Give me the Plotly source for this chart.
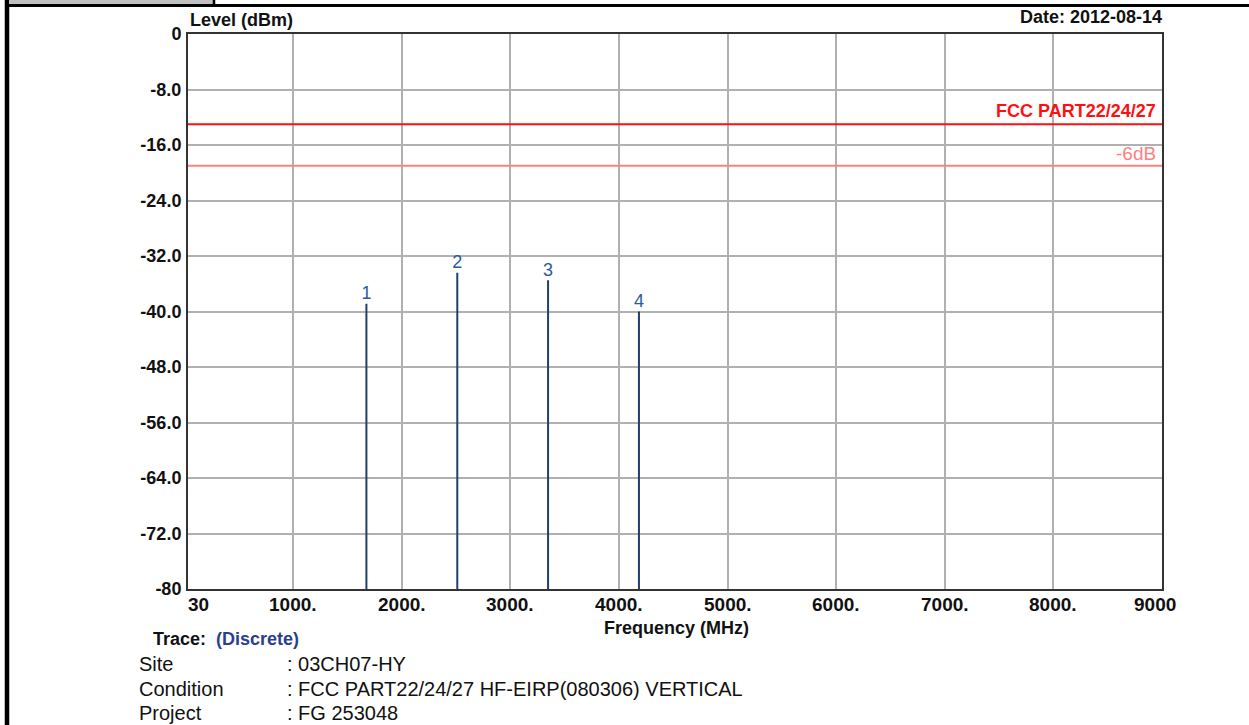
import plotly.graph_objects as go

# Spectrum data: discrete harmonic emissions
marker_ids = ["1", "2", "3", "4"]
freq_mhz = [1673.0, 2510.0, 3346.0, 4183.0]
level_dbm = [-38.9, -34.4, -35.5, -40.0]

# Limit lines
limit_name = "FCC PART22/24/27"
limit_level = -13.0
margin_name = "-6dB"
margin_level = -19.0

# Axis ticks
x_ticks = [30, 1000, 2000, 3000, 4000, 5000, 6000, 7000, 8000, 9000]
x_ticktext = ["30", "1000.", "2000.", "3000.", "4000.", "5000.", "6000.", "7000.", "8000.", "9000"]
y_ticks = [0, -8, -16, -24, -32, -40, -48, -56, -64, -72, -80]
y_ticktext = ["0", "-8.0", "-16.0", "-24.0", "-32.0", "-40.0", "-48.0", "-56.0", "-64.0", "-72.0", "-80"]

# Report header/footer info
date_text = "Date: 2012-08-14"
info_keys = ["Site", "Condition", "Project"]
info_vals = [": 03CH07-HY", ": FCC PART22/24/27 HF-EIRP(080306) VERTICAL", ": FG 253048"]

W, H = 1249, 725
L, R, T, B = 188, 1162, 34, 589
FONT = "Liberation Sans, Arial, sans-serif"


def px(p):
    return (p - L) / (R - L)


def py(q):
    return (B - q) / (B - T)


fig = go.Figure()

# Stem lines for each discrete emission
sx, sy = [], []
for f, v in zip(freq_mhz, level_dbm):
    sx += [f, f, None]
    sy += [-80, v, None]
fig.add_trace(go.Scatter(x=sx, y=sy, mode="lines",
                         line=dict(color="#1f3f6f", width=2),
                         hoverinfo="skip", showlegend=False))

# Marker numbers above each stem
fig.add_trace(go.Scatter(x=freq_mhz, y=level_dbm, mode="text", text=marker_ids,
                         textposition="top center",
                         textfont=dict(family=FONT, size=18, color="#2b5aa0"),
                         showlegend=False, hoverinfo="skip"))

# Limit and margin lines
fig.add_trace(go.Scatter(x=[30, 9000], y=[limit_level] * 2, mode="lines",
                         line=dict(color="#ff1010", width=2),
                         hoverinfo="skip", showlegend=False))
fig.add_trace(go.Scatter(x=[30, 9000], y=[margin_level] * 2, mode="lines",
                         line=dict(color="#ff8080", width=2),
                         hoverinfo="skip", showlegend=False))

annotations = [
    dict(x=9000, y=limit_level, xref="x", yref="y", text=f"<b>{limit_name}</b>",
         xanchor="right", yanchor="bottom", yshift=1, xshift=-4, showarrow=False,
         font=dict(family=FONT, size=18, color="#ff1010")),
    dict(x=9000, y=margin_level, xref="x", yref="y", text=margin_name,
         xanchor="right", yanchor="bottom", yshift=0, xshift=-4, showarrow=False,
         font=dict(family=FONT, size=19, color="#ff8080")),
    dict(x=px(188), y=py(20), xref="paper", yref="paper", text="<b>Level (dBm)</b>",
         xanchor="left", yanchor="middle", showarrow=False,
         font=dict(family=FONT, size=18, color="#111")),
    dict(x=px(1164), y=py(17), xref="paper", yref="paper", text=f"<b>{date_text}</b>",
         xanchor="right", yanchor="middle", showarrow=False,
         font=dict(family=FONT, size=18, color="#111")),
    dict(x=px(676), y=py(628), xref="paper", yref="paper", text="<b>Frequency (MHz)</b>",
         xanchor="center", yanchor="middle", showarrow=False,
         font=dict(family=FONT, size=18, color="#111")),
    dict(x=px(151), y=py(639), xref="paper", yref="paper",
         text="<b>Trace:  <span style='color:#2a3f8f'>(Discrete)</span></b>",
         xanchor="left", yanchor="middle", showarrow=False,
         font=dict(family=FONT, size=18, color="#111")),
]

# X tick labels (end labels sit inside the axis span)
for v, t in zip(x_ticks, x_ticktext):
    shift = 0
    if v == x_ticks[0]:
        shift = 10
    elif v == x_ticks[-1]:
        shift = -7
    annotations.append(dict(x=v, y=py(604), xref="x", yref="paper", text=f"<b>{t}</b>",
                            xanchor="center", yanchor="middle", xshift=shift,
                            showarrow=False,
                            font=dict(family=FONT, size=19, color="#111")))

# Footer info block
for i, (k, v) in enumerate(zip(info_keys, info_vals)):
    yy = 664 + i * 24.5
    annotations.append(dict(x=px(137), y=py(yy), xref="paper", yref="paper", text=k,
                            xanchor="left", yanchor="middle", showarrow=False,
                            font=dict(family=FONT, size=20, color="#111")))
    annotations.append(dict(x=px(285), y=py(yy), xref="paper", yref="paper", text=v,
                            xanchor="left", yanchor="middle", showarrow=False,
                            font=dict(family=FONT, size=20, color="#111")))

# Page frame: left bar, top rule, gray header tab
shapes = [
    dict(type="rect", xref="paper", yref="paper", x0=px(10), x1=px(213), y0=py(0), y1=py(4.5),
         fillcolor="#c0c0c0", line=dict(width=0), layer="above"),
    dict(type="line", xref="paper", yref="paper", x0=px(214), x1=px(214), y0=py(-2), y1=py(5),
         line=dict(color="#000", width=2.5), layer="above"),
    dict(type="line", xref="paper", yref="paper", x0=px(5), x1=px(1260), y0=py(5.5), y1=py(5.5),
         line=dict(color="#000", width=3), layer="above"),
    dict(type="line", xref="paper", yref="paper", x0=px(7), x1=px(7), y0=py(0), y1=py(740),
         line=dict(color="#000", width=4.5), layer="above"),
]

fig.update_layout(
    width=W, height=H,
    margin=dict(l=L, r=W - R, t=T, b=H - B, pad=0),
    paper_bgcolor="white", plot_bgcolor="white",
    showlegend=False,
    annotations=annotations,
    shapes=shapes,
    xaxis=dict(range=[30, 9000], tickvals=x_ticks[1:-1], showticklabels=False,
               showgrid=True, gridcolor="#b0b0b0", gridwidth=1.5,
               zeroline=False, showline=True, linecolor="#333", linewidth=2,
               mirror=True, ticks=""),
    yaxis=dict(range=[-80, 0], tickvals=y_ticks, ticktext=[f"<b>{t}</b>" for t in y_ticktext],
               showgrid=True, gridcolor="#b0b0b0", gridwidth=1.5,
               zeroline=False, showline=True, linecolor="#333", linewidth=2,
               mirror=True, ticks="", ticklabelstandoff=1,
               tickfont=dict(family=FONT, size=18, color="#111")),
)

fig.write_html("out.html")
